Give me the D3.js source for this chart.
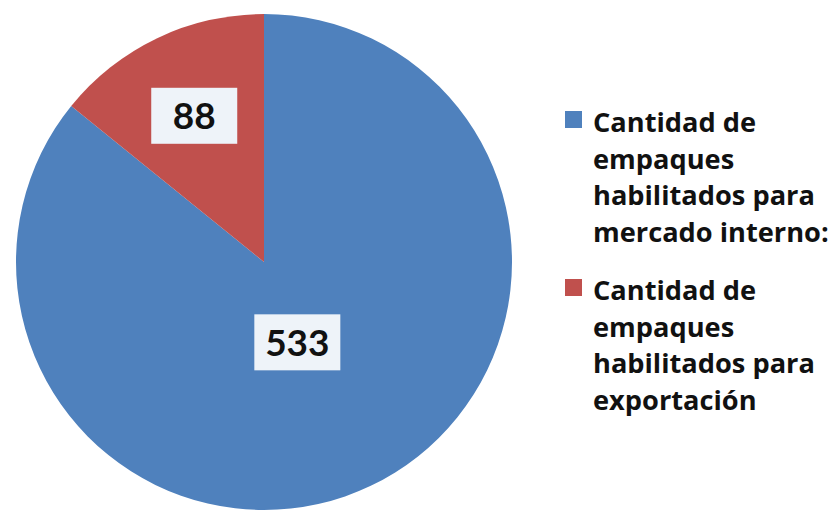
<!DOCTYPE html>
<html>
<head>
<meta charset="utf-8">
<script src="https://cdn.jsdelivr.net/npm/d3@7"></script>
<style>
  html, body { margin: 0; padding: 0; background: #fff; }
  svg { display: block; }
</style>
</head>
<body>
<svg id="chart" width="839" height="510"></svg>
<script>
const categories = [
  "Cantidad de empaques habilitados para mercado interno:",
  "Cantidad de empaques habilitados para exportación"
];
const legendLines = [
  ["Cantidad de", "empaques", "habilitados para", "mercado interno:"],
  ["Cantidad de", "empaques", "habilitados para", "exportación"]
];
const values = [533, 88];
const colors = ["#4F81BD", "#C0504D"];

const svg = d3.select("#chart");
const cx = 264, cy = 262, R = 248;
const labelRadius = [89, 162];
const fontFamily = "Lato, 'Open Sans', sans-serif";
const legendFont = "'Open Sans', Lato, sans-serif";

const pie = d3.pie().sort(null).value(d => d)(values);
const arc = d3.arc().innerRadius(0).outerRadius(R);

const g = svg.append("g").attr("transform", `translate(${cx},${cy})`);
g.selectAll("path.slice")
  .data(pie)
  .join("path")
  .attr("class", "slice")
  .attr("d", arc)
  .attr("fill", (d, i) => colors[i]);

// data labels
const labels = g.selectAll("g.lbl")
  .data(pie)
  .join("g")
  .attr("class", "lbl")
  .attr("transform", (d, i) => {
    const a = d3.arc().innerRadius(labelRadius[i]).outerRadius(labelRadius[i]);
    let [x, y] = a.centroid(d);
    if (i === 0) x -= 5;
    return `translate(${x},${y})`;
  });
labels.append("rect")
  .attr("x", -43).attr("y", -28)
  .attr("width", 86).attr("height", 56)
  .attr("fill", "#EEF3F9");
labels.append("text")
  .attr("text-anchor", "middle")
  .attr("dy", "0.36em")
  .attr("font-family", fontFamily)
  .attr("font-weight", "bold")
  .attr("font-size", 37)
  .attr("fill", "#111")
  .text(d => d.data);

// legend
const legend = svg.append("g");
const groupTop = [132, 300];
const lineH = 36.5;
legendLines.forEach((lines, i) => {
  const lg = legend.append("g").attr("class", "legend-item").attr("data-cat", categories[i]);
  lg.append("rect")
    .attr("x", 565).attr("y", groupTop[i] - 21)
    .attr("width", 17).attr("height", 17)
    .attr("fill", colors[i]);
  const t = lg.append("text")
    .attr("class", "legend-text")
    .attr("font-family", legendFont)
    .attr("font-weight", "bold")
    .attr("font-size", 27)
    .attr("fill", "#111");
  lines.forEach((ln, j) => {
    t.append("tspan").attr("x", 593).attr("y", groupTop[i] + j * lineH).text(ln);
  });
});
// fit legend font so the widest line matches the original width
const probe = legend.select("text.legend-text").selectAll("tspan").nodes()[2];
const w = probe.getComputedTextLength();
const fs = 27 * 222 / w;
legend.selectAll("text.legend-text").attr("font-size", fs);
</script>
</body>
</html>
